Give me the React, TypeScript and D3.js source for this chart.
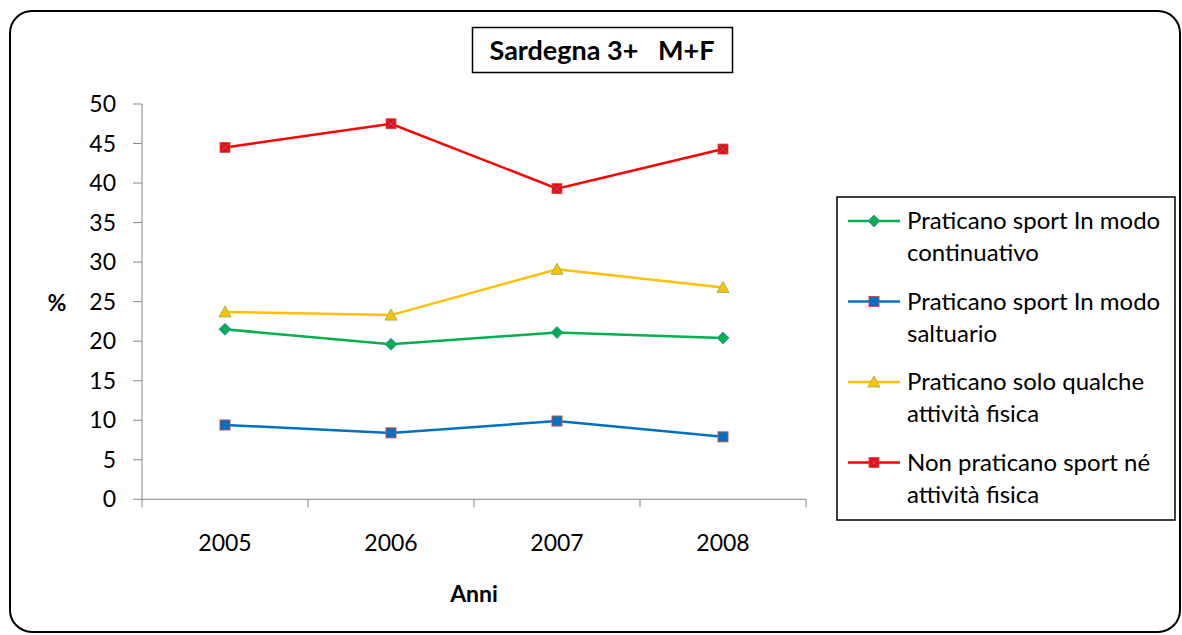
import React from "react";
import * as d3 from "d3";

const years = ["2005", "2006", "2007", "2008"];
const yTicks = [0, 5, 10, 15, 20, 25, 30, 35, 40, 45, 50];
const continuativo = [21.5, 19.6, 21.1, 20.4];
const saltuario = [9.4, 8.4, 9.9, 7.9];
const qualche = [23.7, 23.3, 29.1, 26.8];
const nonPraticano = [44.5, 47.5, 39.3, 44.3];
const seriesNames = [
  ["Praticano sport In modo", "continuativo"],
  ["Praticano sport In modo", "saltuario"],
  ["Praticano solo qualche", "attività fisica"],
  ["Non praticano sport né", "attività fisica"],
];
const title = "Sardegna 3+   M+F";
const xTitle = "Anni";
const yTitle = "%";

const series = [
  { name: seriesNames[0], values: continuativo, color: "#00B050", marker: "diamond", fill: "#00B050", stroke: "#4F81BD" },
  { name: seriesNames[1], values: saltuario, color: "#0070C0", marker: "square", fill: "#0070C0", stroke: "#C0504D" },
  { name: seriesNames[2], values: qualche, color: "#FFC000", marker: "triangle", fill: "#FFC000", stroke: "#9BBB59" },
  { name: seriesNames[3], values: nonPraticano, color: "#FF0000", marker: "xsquare", fill: "#FF0000", stroke: "#8064A2" },
];

const FONT = "Lato, 'Open Sans', sans-serif";

function Marker({ type, x, y, fill, stroke }: any) {
  if (type === "diamond") {
    const r = 6;
    return <path d={`M${x},${y - r}L${x + r},${y}L${x},${y + r}L${x - r},${y}Z`} fill={fill} stroke={stroke} strokeWidth={0.8} />;
  }
  if (type === "square") {
    return <rect x={x - 5} y={y - 5} width={10} height={10} fill={fill} stroke={stroke} strokeWidth={1} />;
  }
  if (type === "triangle") {
    return <path d={`M${x},${y - 6}L${x + 6},${y + 5}L${x - 6},${y + 5}Z`} fill={fill} stroke={stroke} strokeWidth={1} />;
  }
  return (
    <g>
      <rect x={x - 5} y={y - 5} width={10} height={10} fill={fill} stroke="#C0504D" strokeWidth={0.8} />
      <path d={`M${x - 4},${y - 4}L${x + 4},${y + 4}M${x + 4},${y - 4}L${x - 4},${y + 4}`} stroke={stroke} strokeWidth={1} />
    </g>
  );
}

export default function App() {
  const W = 1182, H = 635;
  const x0 = 142, x1 = 806, yTop = 104, yBot = 499.3;
  const xScale = d3.scaleBand<string>().domain(years).range([x0, x1]);
  const yScale = d3.scaleLinear().domain([0, 50]).range([yBot, yTop]);
  const line = d3.line<number>()
    .x((_, i) => (xScale(years[i]) as number) + xScale.bandwidth() / 2)
    .y((d) => yScale(d));
  const boundaries = [...years.map((y) => xScale(y) as number), x1];

  const legX = 837, legY = 197, legW = 338, legH = 323;

  return (
    <svg width={W} height={H} style={{ position: "absolute", left: 0, top: 0 }} fontFamily={FONT}>
      <rect x={0} y={0} width={W} height={H} fill="#fff" />
      <rect x={10} y={11} width={1170} height={621} rx={22} ry={22} fill="#fff" stroke="#000" strokeWidth={2} />
      {/* title */}
      <rect x={472.5} y={27.5} width={260} height={45} fill="#fff" stroke="#000" strokeWidth={1.5} />
      <text x={602} y={60} textAnchor="middle" fontSize={27} fontWeight="bold" fill="#000" style={{ whiteSpace: "pre" }}>{title}</text>
      {/* axes */}
      <line x1={x0} x2={x0} y1={yTop} y2={yBot} stroke="#868686" strokeWidth={1} />
      <line x1={x0} x2={x1} y1={yBot} y2={yBot} stroke="#868686" strokeWidth={1} />
      {yTicks.map((t) => (
        <g key={t}>
          <line x1={x0 - 9} x2={x0} y1={yScale(t)} y2={yScale(t)} stroke="#868686" />
          <text x={116} y={yScale(t) + 8} textAnchor="end" fontSize={23} fill="#000">{t}</text>
        </g>
      ))}
      {boundaries.map((b, i) => (
        <line key={i} x1={b} x2={b} y1={yBot} y2={yBot + 8} stroke="#868686" />
      ))}
      {years.map((y) => (
        <text key={y} x={(xScale(y) as number) + xScale.bandwidth() / 2} y={551} textAnchor="middle" fontSize={23} fill="#000">{y}</text>
      ))}
      <text x={474} y={602} textAnchor="middle" fontSize={23} fontWeight="bold" fill="#000">{xTitle}</text>
      <text x={57} y={311} textAnchor="middle" fontSize={23} fontWeight="bold" fill="#000">{yTitle}</text>
      {/* series */}
      {series.map((s, si) => (
        <g key={si}>
          <path d={line(s.values) as string} fill="none" stroke={s.color} strokeWidth={2.5} />
          {s.values.map((v, i) => (
            <Marker key={i} type={s.marker} x={(xScale(years[i]) as number) + xScale.bandwidth() / 2} y={yScale(v)} fill={s.fill} stroke={s.stroke} />
          ))}
        </g>
      ))}
      {/* legend */}
      <rect x={legX} y={legY} width={legW} height={legH} fill="#fff" stroke="#000" strokeWidth={1.5} />
      {series.map((s, si) => {
        const cy = 221 + si * 80.5;
        return (
          <g key={si}>
            <line x1={848} x2={900} y1={cy} y2={cy} stroke={s.color} strokeWidth={2.5} />
            <Marker type={s.marker} x={874} y={cy} fill={s.fill} stroke={s.stroke} />
            <text x={907} y={cy + 8} fontSize={24} fill="#000">{s.name[0]}</text>
            <text x={907} y={cy + 40} fontSize={24} fill="#000">{s.name[1]}</text>
          </g>
        );
      })}
    </svg>
  );
}
